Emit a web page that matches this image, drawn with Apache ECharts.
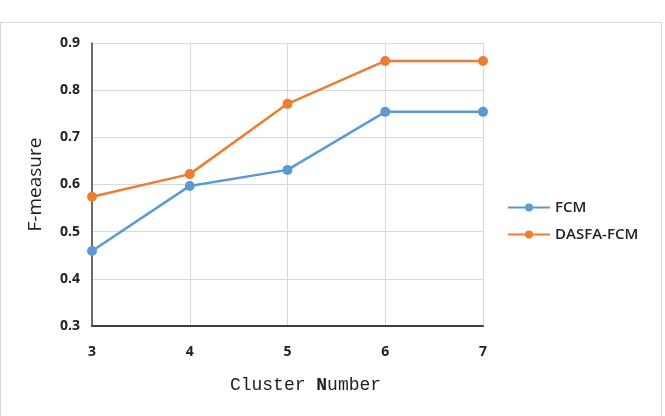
<!DOCTYPE html>
<html>
<head>
<meta charset="utf-8">
<script src="https://cdn.jsdelivr.net/npm/echarts@6/dist/echarts.min.js"></script>
<style>
  html, body { margin: 0; padding: 0; background: #fff; }
  #frame { position: absolute; left: 0; top: 22px; width: 662px; height: 400px; border: 1px solid #d9d9d9; box-sizing: border-box; }
  #chart { position: absolute; left: 0; top: 0; width: 665px; height: 416px; }
</style>
</head>
<body>
<div id="frame"></div>
<div id="chart"></div>
<script>
// cluster counts on the x axis
var clusters = ['3', '4', '5', '6', '7'];
// F-measure values
var fcm = [0.459, 0.597, 0.631, 0.754, 0.754];
var dasfaFcm = [0.574, 0.622, 0.771, 0.862, 0.862];

var blue = '#5b9bd5';
var orange = '#ed7d31';

var chart = echarts.init(document.getElementById('chart'));
chart.setOption({
  animation: false,
  grid: { left: 92, right: 182, top: 43, bottom: 90 },
  legend: {
    orient: 'vertical',
    left: 502,
    top: 195,
    itemWidth: 42,
    itemHeight: 10,
    itemGap: 12,
    textStyle: { fontFamily: 'Open Sans', fontSize: 15, fontWeight: 600, color: '#222' },
    data: ['FCM', 'DASFA-FCM']
  },
  xAxis: {
    type: 'category',
    data: clusters,
    boundaryGap: false,
    name: '{a|Cluster }{b|N}{a|umber}',
    nameLocation: 'middle',
    nameGap: 50,
    nameTextStyle: {
      padding: [0, 0, 0, 36],
      rich: {
        a: { fontFamily: 'Liberation Mono', fontSize: 18, color: '#222' },
        b: { fontFamily: 'Liberation Mono', fontSize: 18, fontWeight: 'bold', color: '#222' }
      }
    },
    axisLine: { lineStyle: { color: '#404040', width: 2 } },
    axisTick: { show: false },
    axisLabel: { fontFamily: 'Open Sans', fontSize: 14, fontWeight: 700, color: '#222', margin: 19 },
    splitLine: { show: true, lineStyle: { color: '#d9d9d9', width: 1 } }
  },
  yAxis: {
    type: 'value',
    min: 0.3,
    max: 0.9,
    interval: 0.1,
    name: 'F-measure',
    nameLocation: 'middle',
    nameGap: 47,
    nameTextStyle: { fontFamily: 'Open Sans', fontSize: 19, color: '#222' },
    axisLine: { show: true, lineStyle: { color: '#404040', width: 1.5 } },
    axisTick: { show: false },
    axisLabel: { fontFamily: 'Open Sans', fontSize: 14, fontWeight: 700, color: '#222', margin: 12,
      formatter: function (v) { return v.toFixed(1); } },
    splitLine: { lineStyle: { color: '#d9d9d9', width: 1 } }
  },
  series: [
    {
      name: 'FCM',
      type: 'line',
      data: fcm,
      symbol: 'circle',
      symbolSize: 10,
      itemStyle: { color: blue },
      lineStyle: { color: blue, width: 2.5 }
    },
    {
      name: 'DASFA-FCM',
      type: 'line',
      data: dasfaFcm,
      symbol: 'circle',
      symbolSize: 10,
      itemStyle: { color: orange },
      lineStyle: { color: orange, width: 2.5 }
    }
  ]
});
</script>
</body>
</html>
